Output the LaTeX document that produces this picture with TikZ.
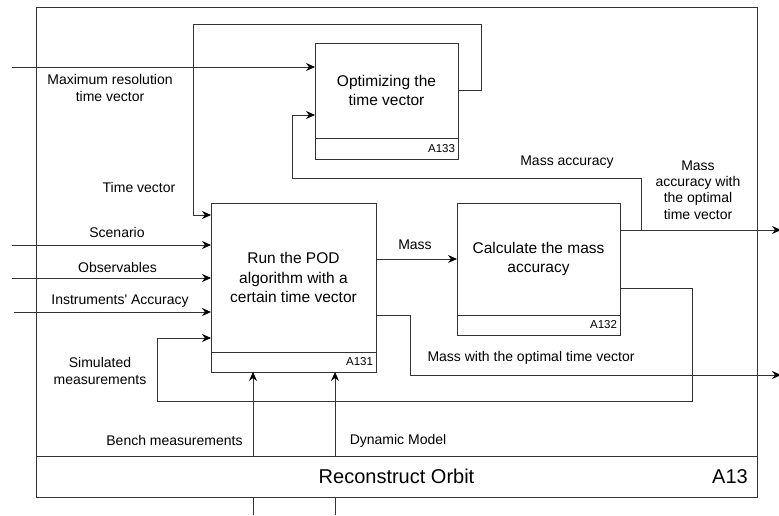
\documentclass[tikz,border=0pt]{standalone}
\usepackage{fontspec}
\setmainfont{Liberation Sans}
\usetikzlibrary{positioning,calc,arrows.meta}
\definecolor{linecolor}{RGB}{51,51,51}

\begin{document}
\begin{tikzpicture}[
    x=1pt, y=-1pt,
    wire/.style={draw=linecolor, line width=0.8pt},
    flow/.style={wire, -{Stealth[length=9pt, width=8pt, inset=3pt, black]}},
    act/.style={rectangle, draw=linecolor, line width=0.8pt, outer sep=0pt, anchor=north west, align=center, inner sep=0pt, font=\fontsize{15.5}{19.5}\selectfont},
    actid/.style={rectangle, draw=linecolor, line width=0.8pt, outer sep=0pt, align=right, inner xsep=3pt, inner ysep=0pt, minimum height=20pt, font=\fontsize{11.5}{13}\selectfont},
    lbl/.style={align=center, inner sep=0pt, font=\fontsize{14}{16.3}\selectfont}
]
    \useasboundingbox (0,0) rectangle (779,515);

    % Outer frame
    \node[wire, rectangle, outer sep=0pt, minimum width=721pt, minimum height=490pt, anchor=north west] (frame) at (36,7) {};

    % Activity boxes
    \node[act, minimum width=143pt, minimum height=95pt] (opt) at (315,43) {Optimizing the\\time vector};
    \node[actid, below=0pt of opt, text width=137pt, minimum height=21pt] (optid) {A133};
    \node[act, minimum width=165pt, minimum height=149pt] (pod) at (211,203) {Run the POD\\algorithm with a\\certain time vector};
    \node[actid, below=0pt of pod, text width=159pt] (podid) {A131};
    \node[act, minimum width=163pt, minimum height=112pt] (calc) at (457,203) {Calculate the mass\\accuracy};
    \node[actid, below=0pt of calc, text width=157pt] (calcid) {A132};

    % Free ends
    \coordinate (inmax) at (12,67);
    \coordinate (inscen) at (12,245);
    \coordinate (inobs) at (12,278);
    \coordinate (ininst) at (14,312);
    \coordinate (outacc) at (781,230);
    \coordinate (outmass) at (781,375);
    \coordinate (inbench) at (253,515);
    \coordinate (indyn) at (335,515);

    % Inputs
    \draw[flow] (inmax) -- (inmax -| opt.west);
    \foreach \src in {inscen, inobs, ininst} {
        \draw[flow] (\src) -- (\src -| pod.west);
    }

    % Time vector feedback
    \draw[flow] (opt.east) -- ++(23,0) |- (193,24) |- ($(pod.north west)+(0,12)$);

    % Mass
    \draw[flow] (calc.west -| pod.east) -- (calc.west);

    % Mass accuracy output and feedback
    \draw[flow] ($(calc.north east)+(0,27)$) -- (outacc);
    \coordinate (accsplit) at ($(calc.north east)+(21,27)$);
    \draw[flow] (accsplit) |- (292,178) |- ($(opt.north west)+(0,72)$);

    % Simulated measurements loop
    \draw[flow] ($(calc.north east)+(0,85)$) -- ++(72,0) |- (157,401) |- ($(pod.north west)+(0,135)$);

    % Mass with the optimal time vector
    \draw[flow] ($(pod.north east)+(0,112)$) -- ++(34,0) |- (outmass);

    % Mechanisms
    \draw[flow] (inbench) -- (inbench |- podid.south);
    \draw[flow] (indyn) -- (indyn |- podid.south);

    % Title band
    \node[wire, rectangle, fill=white, outer sep=0pt, inner sep=0pt, minimum width=721pt, minimum height=41pt, anchor=north west, font=\fontsize{20}{24}\selectfont] (band) at (36,456) {Reconstruct Orbit};
    \node[anchor=east, inner sep=0pt, font=\fontsize{20}{24}\selectfont] (bandid) at ($(band.east)+(-9,0)$) {A13};

    % Labels
    \node[lbl] (lmax) at (110,88) {Maximum resolution\\time vector};
    \node[lbl] (ltime) at (139,187) {Time vector};
    \node[lbl] (lscen) at (117,232) {Scenario};
    \node[lbl] (lobs) at (117.5,267) {Observables};
    \node[lbl] (linst) at (120,301) {Instruments\textquotesingle{} Accuracy};
    \node[lbl] (lsim) at (100,371) {Simulated\\measurements};
    \node[lbl] (lmass) at (415,245) {Mass};
    \node[lbl] (lacc) at (567,162) {Mass accuracy};
    \node[lbl] (lout) at (698,190) {Mass\\accuracy with\\the optimal\\time vector};
    \node[lbl] (lopt) at (531,358) {Mass with the optimal time vector};
    \node[lbl] (lbench) at (174.5,440) {Bench measurements};
    \node[lbl] (ldyn) at (398,441) {Dynamic Model};
\end{tikzpicture}
\end{document}
